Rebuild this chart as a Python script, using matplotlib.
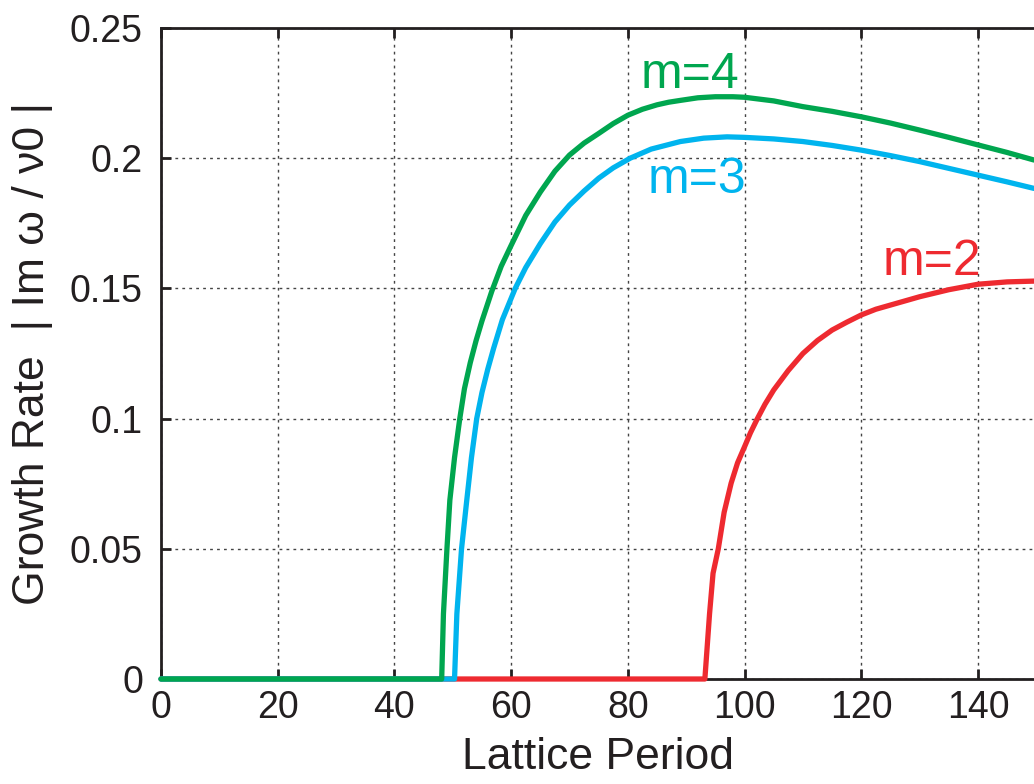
import matplotlib
matplotlib.use("Agg")
import matplotlib.pyplot as plt

plt.rcParams['font.family'] = ['Liberation Sans', 'DejaVu Sans']

# values
m4_x = [0, 48.1, 48.4, 49.0, 49.5, 50.3, 51.2, 52.0, 53.0, 54.0, 55.0, 56.7, 58.3, 60, 62.5, 65, 67.5, 70,
        72.5, 75, 77.5, 80, 82.5, 85, 87, 89, 92, 95, 98, 100, 105, 110, 115, 120, 125, 130, 135, 140, 145, 149.6]
m4_y = [0, 0, 0.025, 0.05, 0.0687, 0.085, 0.1, 0.1115, 0.1215, 0.130, 0.1375, 0.149, 0.1585, 0.1665, 0.178, 0.187, 0.195, 0.2012,
        0.2058, 0.2095, 0.2133, 0.2165, 0.2188, 0.2205, 0.2215, 0.2222, 0.2232, 0.2236, 0.2236, 0.2234, 0.2220, 0.2198, 0.2180, 0.2159, 0.2135, 0.2108, 0.2080, 0.2051, 0.2022, 0.1993]

m3_x = [0, 50.3, 50.7, 51.5, 52.4, 53.2, 54.1, 55, 56, 57, 58.5, 60.7, 62.5, 65, 67.5, 70, 72.5, 75, 77.5, 80.4,
        84, 89, 93, 97, 100, 105, 110, 115, 120, 125, 130, 135, 140, 145, 149.6]
m3_y = [0, 0, 0.025, 0.05, 0.0687, 0.085, 0.1, 0.11, 0.119, 0.127, 0.138, 0.15, 0.158, 0.1672, 0.1755, 0.182, 0.1874, 0.1923, 0.1963, 0.2,
        0.2035, 0.2064, 0.2077, 0.2082, 0.208, 0.2074, 0.2064, 0.2049, 0.2031, 0.201, 0.1987, 0.1961, 0.1935, 0.1909, 0.1884]

m2_x = [0, 93.2, 94.0, 94.6, 95.5, 96.5, 97.7, 98.8, 100, 101, 102.2, 103.5, 105, 107.5, 110, 112.5, 115, 117.5,
        120, 122.5, 125, 127.5, 130, 135, 140, 145, 149.6]
m2_y = [0, 0, 0.025, 0.0406, 0.05, 0.064, 0.0752, 0.083, 0.0892, 0.0945, 0.1, 0.1055, 0.111, 0.1185, 0.125, 0.130, 0.134, 0.137,
        0.1398, 0.142, 0.1436, 0.1452, 0.1468, 0.1495, 0.1516, 0.1525, 0.1528]

xticks = [0, 20, 40, 60, 80, 100, 120, 140]
yticks = [0, 0.05, 0.1, 0.15, 0.2, 0.25]
ytick_labels = ['0', '0.05', '0.1', '0.15', '0.2', '0.25']

green = '#00a64f'
blue = '#00b4ee'
red = '#ee2a30'

fig = plt.figure(figsize=(10.34, 7.84), dpi=100)
ax = fig.add_axes([161/1034, 105/784, 1 - 161/1034, (679 - 28)/784])

lw = 3.8
ax.plot(m2_x, m2_y, color=red, lw=lw, solid_capstyle='round', solid_joinstyle='round', zorder=3, clip_on=False)
ax.plot(m3_x, m3_y, color=blue, lw=lw, solid_capstyle='round', solid_joinstyle='round', zorder=4, clip_on=False)
ax.plot(m4_x, m4_y, color=green, lw=lw, solid_capstyle='round', solid_joinstyle='round', zorder=5, clip_on=False)

ax.text(90.6, 0.232, 'm=4', color=green, fontsize=36, ha='center', va='center')
ax.text(91.8, 0.1916, 'm=3', color=blue, fontsize=36, ha='center', va='center')
ax.text(132.1, 0.160, 'm=2', color=red, fontsize=36, ha='center', va='center')

ax.set_xlim(0, 149.6)
ax.set_ylim(0, 0.25)
ax.set_xticks(xticks)
ax.set_yticks(yticks)
ax.set_yticklabels(ytick_labels)

ax.grid(True, color='#444444', linestyle=(0, (2, 3)), linewidth=1.0)
ax.set_axisbelow(True)

for s in ['left', 'bottom', 'top']:
    ax.spines[s].set_linewidth(2.0)
    ax.spines[s].set_color('#231f20')
ax.spines['right'].set_visible(False)

ax.tick_params(axis='both', direction='in', length=7, width=2, colors='#231f20',
               labelsize=27, top=True, right=False)
ax.tick_params(axis='y', pad=13)
ax.tick_params(axis='x', pad=8)

ax.set_xlabel('Lattice Period', fontsize=32, color='#231f20', labelpad=8)
ax.set_ylabel('Growth Rate  | Im ω / ν0 |', fontsize=32, color='#231f20', labelpad=12)

fig.savefig('out.png', dpi=100)
